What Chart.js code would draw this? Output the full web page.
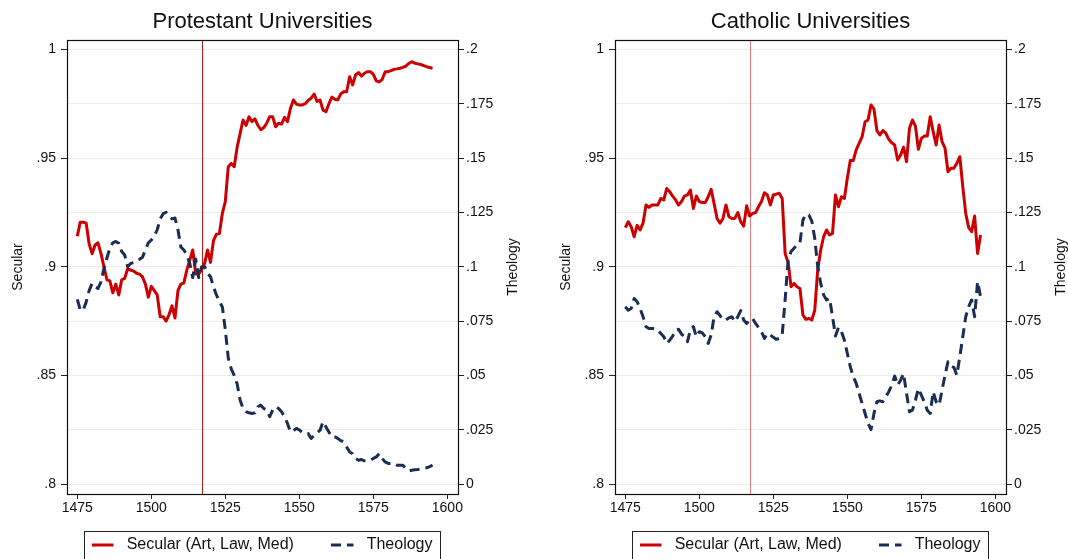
<!DOCTYPE html>
<html><head><meta charset="utf-8">
<script src="https://cdn.jsdelivr.net/npm/chart.js@4.4.0/dist/chart.umd.min.js"></script>
<style>
html,body{margin:0;padding:0;background:#fff;}
#wrap{position:relative;width:1068px;height:559px;overflow:hidden;background:#fff;}
canvas{position:absolute;left:0;top:0;}
</style></head><body>
<div id="wrap"><canvas id="c1" width="1068" height="559"></canvas><canvas id="c2" width="1068" height="559"></canvas></div>
<script>
const years = [1475,1476,1477,1478,1479,1480,1481,1482,1483,1484,1485,1486,1487,1488,1489,1490,1491,1492,1493,1494,
1495,1496,1497,1498,1499,1500,1501,1502,1503,1504,1505,1506,1507,1508,1509,1510,1511,1512,1513,1514,
1515,1516,1517,1518,1519,1520,1521,1522,1523,1524,1525,1526,1527,1528,1529,1530,1531,1532,1533,1534,
1535,1536,1537,1538,1539,1540,1541,1542,1543,1544,1545,1546,1547,1548,1549,1550,1551,1552,1553,1554,
1555,1556,1557,1558,1559,1560,1561,1562,1563,1564,1565,1566,1567,1568,1569,1570,1571,1572,1573,1574,
1575,1576,1577,1578,1579,1580,1581,1582,1583,1584,1585,1586,1587,1588,1589,1590,1591,1592,1593,1594,1595];

const protSecular = [.914,.9205,.9205,.920,.9105,.906,.910,.911,.906,.900,
 .894,.8935,.888,.892,.887,.894,.8946,.899,.8985,.898,
 .897,.8966,.8954,.892,.886,.891,.889,.887,.877,.877,
 .875,.878,.882,.8764,.889,.892,.8926,.8985,.903,.9077,
 .8966,.8966,.8985,.9015,.9077,.902,.912,.915,.9153,.9245,
 .930,.946,.9475,.946,.955,.9613,.9675,.965,.969,.9667,
 .968,.965,.963,.964,.966,.969,.969,.9644,.966,.9656,
 .9687,.9667,.9728,.9767,.9748,.9744,.9744,.975,.9765,.9775,
 .9794,.976,.9767,.972,.9713,.975,.978,.977,.9767,.9795,
 .9805,.9805,.9874,.9836,.9882,.9893,.9877,.989,.9897,.9897,
 .9885,.9855,.985,.9862,.9897,.9897,.9902,.9908,.991,.9913,
 .9917,.9923,.9935,.9943,.9936,.9933,.993,.9925,.992,.9916,
 .9913];

const protTheology = [.085,.080,.080,.0838,.089,.0923,.0907,.090,.093,.0992,
 .104,.1085,.111,.1116,.1108,.107,.1054,.100,.1015,.1019,
 .103,.1034,.1043,.1077,.111,.1123,.114,.117,.122,.1244,
 .125,.123,.122,.1224,.117,.109,.1077,.1054,.1015,.095,
 .1035,.095,.100,.100,.097,.0954,.0907,.087,.084,.0815,
 .071,.058,.053,.050,.046,.0386,.0348,.0333,.0328,.0325,
 .0328,.0356,.0363,.0348,.034,.031,.034,.0356,.0348,.0333,
 .031,.0279,.024,.0245,.0256,.025,.0236,.0235,.0233,.021,
 .0225,.0236,.0248,.0287,.0263,.024,.0217,.0217,.021,.020,
 .0194,.0171,.0148,.014,.0118,.011,.0113,.0107,.0107,.011,
 .0118,.0125,.014,.0118,.0102,.0095,.0095,.0095,.0087,.0087,
 .0087,.0072,.0061,.0064,.0066,.0067,.007,.0072,.0075,.008,
 .0087];

const cathSecular = [.918,.9207,.9184,.9138,.919,.9169,.920,.9284,.9273,.9284,
 .9284,.9284,.9314,.9307,.936,.9345,.9325,.9307,.9284,.930,
 .9325,.933,.9353,.9268,.9325,.930,.9295,.9295,.9322,.9356,
 .929,.9222,.920,.9222,.9284,.923,.9222,.9222,.9249,.9207,
 .9187,.928,.9233,.9245,.9249,.9276,.930,.934,.933,.9284,
 .933,.9334,.9338,.9314,.9060,.902,.8908,.8923,.8908,.890,
 .8778,.8758,.8762,.8755,.880,.8985,.9077,.9138,.9169,.9146,
 .9153,.933,.9276,.9322,.9314,.9407,.9488,.9488,.9537,.9568,
 .9598,.9667,.9675,.9744,.9725,.9626,.9606,.9626,.9614,.9586,
 .957,.956,.9491,.9514,.955,.9483,.9637,.9675,.9647,.954,
 .959,.9601,.9601,.969,.9621,.956,.9652,.9575,.9545,.9437,
 .9453,.9453,.9476,.9506,.9368,.9245,.918,.9161,.9233,.9061,
 .9146];

const cathTheology = [.0816,.080,.0808,.0854,.0839,.0808,.077,.0724,.0716,.0716,
 .0716,.0709,.0693,.0678,.0647,.0662,.0681,.0709,.0712,.069,
 .0678,.0655,.0712,.0724,.0678,.0701,.0696,.0678,.0647,.0686,
 .077,.0793,.0775,.0755,.0755,.0765,.077,.0747,.077,.0798,
 .0755,.0739,.0755,.0762,.0739,.0721,.0701,.067,.0693,.0686,
 .0675,.0666,.067,.0686,.085,.103,.107,.1085,.11,.111,
 .1215,.1242,.1238,.121,.113,.100,.0923,.087,.0847,.0854,
 .077,.0681,.0721,.0701,.0663,.0601,.054,.0494,.0463,.0417,
 .0371,.0325,.0279,.0251,.0325,.0379,.0383,.0379,.0402,.0425,
 .0455,.0497,.0455,.0478,.0509,.0417,.0333,.034,.0386,.044,
 .0409,.0379,.034,.0325,.0425,.0379,.0363,.0432,.0501,.0563,
 .0543,.0537,.0501,.0586,.0678,.077,.0816,.0847,.077,.0931,
 .0862];

const xTicks = [1475,1500,1525,1550,1575,1600];
const xTickLabels = ['1475','1500','1525','1550','1575','1600'];
const secularTicks = [0.8,0.85,0.9,0.95,1];
const secularTickLabels = ['.8','.85','.9','.95','1'];
const theologyTicks = [0,0.025,0.05,0.075,0.1,0.125,0.15,0.175,0.2];
const theologyTickLabels = ['0','.025','.05','.075','.1','.125','.15','.175','.2'];
const reformYear = 1517;
const panelTitles = ['Protestant Universities','Catholic Universities'];
const seriesNames = ['Secular (Art, Law, Med)','Theology'];
const axisTitles = ['Secular','Theology'];

const FONT = '"Liberation Sans", Arial, Helvetica, sans-serif';
const RED = '#cc0000';
const NAVY = '#1b2d55';
const DASH = [10,6];

function pts(vals){ return years.map((y,i)=>({x:y,y:vals[i]})); }
function lbl(arr, labels, v){ for(let i=0;i<arr.length;i++){ if(Math.abs(arr[i]-v)<1e-9) return labels[i]; } return ''; }

function makePanel(id, idx, secular, theology, layout){
  const deco = {
    id:'deco'+idx,
    beforeDatasetsDraw(chart){
      const {ctx, chartArea:a, scales:{x}} = chart;
      const px = Math.round(x.getPixelForValue(reformYear)) + 0.5;
      ctx.save();
      ctx.strokeStyle = layout.vline; ctx.lineWidth = 1;
      ctx.beginPath(); ctx.moveTo(px, a.top); ctx.lineTo(px, a.bottom); ctx.stroke();
      ctx.restore();
    },
    afterDraw(chart){
      const {ctx, chartArea:a} = chart;
      ctx.save();
      ctx.strokeStyle = '#111'; ctx.lineWidth = 1.2;
      ctx.strokeRect(a.left+0.5, a.top+0.5, a.right-a.left, a.bottom-a.top);
      ctx.fillStyle = '#111';
      ctx.textAlign = 'center'; ctx.textBaseline = 'middle';
      ctx.font = '22px ' + FONT;
      ctx.fillText(panelTitles[idx], (a.left+a.right)/2, 22);
      ctx.font = '14px ' + FONT;
      const cy = (a.top+a.bottom)/2;
      ctx.save(); ctx.translate(a.left-48.5, cy); ctx.rotate(-Math.PI/2); ctx.fillText(axisTitles[0],0,0); ctx.restore();
      ctx.save(); ctx.translate(a.right+55, cy); ctx.rotate(-Math.PI/2); ctx.fillText(axisTitles[1],0,0); ctx.restore();
      // legend
      const bx = a.left + 17, by = 531, bw = 356;
      ctx.strokeStyle = '#222'; ctx.lineWidth = 1;
      ctx.strokeRect(bx+0.5, by+0.5, bw, 40);
      const ly = 545;
      ctx.lineWidth = 3;
      ctx.strokeStyle = RED; ctx.setLineDash([]);
      ctx.beginPath(); ctx.moveTo(bx+8, ly); ctx.lineTo(bx+29.5, ly); ctx.stroke();
      ctx.strokeStyle = NAVY; ctx.setLineDash(DASH);
      ctx.beginPath(); ctx.moveTo(bx+247, ly); ctx.lineTo(bx+269.5, ly); ctx.stroke();
      ctx.setLineDash([]);
      ctx.fillStyle = '#111'; ctx.textAlign = 'left'; ctx.font = '16px ' + FONT;
      ctx.fillText(seriesNames[0], bx+42.7, ly);
      ctx.fillText(seriesNames[1], bx+282.7, ly);
      ctx.restore();
    }
  };
  return new Chart(document.getElementById(id), {
    type:'line',
    data:{datasets:[
      {label:seriesNames[0], data:pts(secular), yAxisID:'y', borderColor:RED, borderWidth:3, pointRadius:0, tension:0, borderJoinStyle:'round', order:1},
      {label:seriesNames[1], data:pts(theology), yAxisID:'y2', borderColor:NAVY, borderWidth:3, borderDash:DASH, pointRadius:0, tension:0, borderJoinStyle:'round', order:0}
    ]},
    options:{
      responsive:false, animation:false, devicePixelRatio:1,
      layout:{padding:{left:layout.padLeft, right:layout.padRight, top:40, bottom:45}},
      plugins:{legend:{display:false}, tooltip:{enabled:false}, title:{display:false}},
      scales:{
        x:{type:'linear', min:1471.52, max:1603.6,
          afterBuildTicks:s=>{ s.ticks = xTicks.map(v=>({value:v})); },
          afterFit:s=>{ s.height = 20; },
          grid:{drawOnChartArea:false, tickLength:5, tickColor:'#222', lineWidth:1},
          border:{display:false},
          ticks:{autoSkip:false, maxRotation:0, padding:1, color:'#111', font:{family:FONT, size:14}, callback:v=>lbl(xTicks,xTickLabels,v)}
        },
        y:{type:'linear', position:'left', min:0.79545, max:1.00428,
          afterBuildTicks:s=>{ s.ticks = secularTicks.map(v=>({value:v})); },
          afterFit:s=>{ s.width = layout.leftW; },
          grid:{drawOnChartArea:false, tickLength:6, tickColor:'#222'},
          border:{display:false},
          ticks:{autoSkip:false, padding:5, color:'#111', font:{family:FONT, size:14}, callback:v=>lbl(secularTicks,secularTickLabels,v)}
        },
        y2:{type:'linear', position:'right', min:-0.00455, max:0.20428,
          afterBuildTicks:s=>{ s.ticks = theologyTicks.map(v=>({value:v})); },
          afterFit:s=>{ s.width = layout.rightW; },
          grid:{drawOnChartArea:true, color:'#ececec', tickLength:6, tickColor:'#222'},
          border:{display:false},
          ticks:{autoSkip:false, padding:2, color:'#111', font:{family:FONT, size:14}, callback:v=>lbl(theologyTicks,theologyTickLabels,v)}
        }
      }
    },
    plugins:[deco]
  });
}

makePanel('c1', 0, protSecular, protTheology, {padLeft:0, leftW:67, rightW:76, padRight:534, vline:'#b81c1c'});
makePanel('c2', 1, cathSecular, cathTheology, {padLeft:534, leftW:81, rightW:62, padRight:0, vline:'#d77a7a'});
</script>
</body></html>
